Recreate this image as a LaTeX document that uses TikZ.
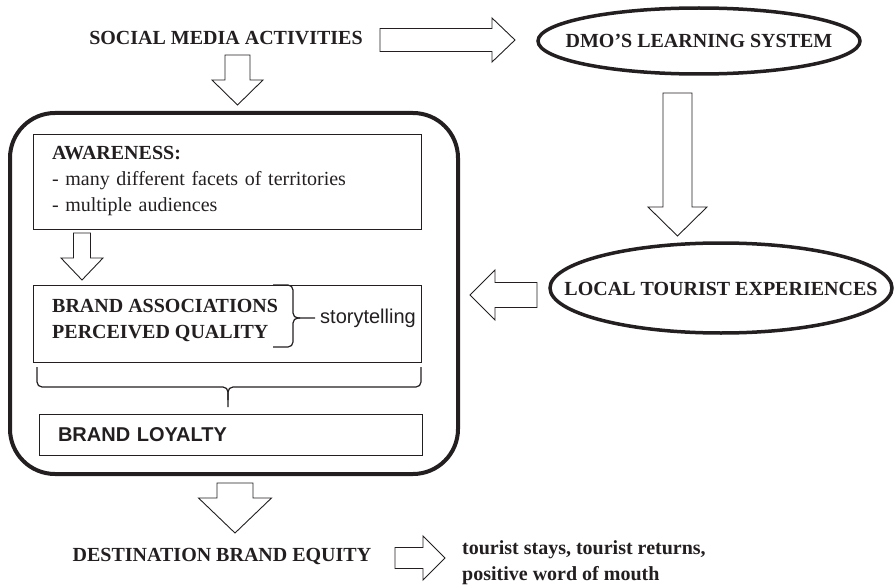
\documentclass[tikz,border=0pt]{standalone}
\usepackage{fontspec}
\setmainfont{Liberation Serif}
\setsansfont{Liberation Sans}
\usepackage{tikz}
\usetikzlibrary{calc,shapes.geometric,positioning}
\definecolor{ink}{HTML}{231F20}
\tikzset{every node/.append style={text=ink, font=\fontsize{20}{26}\selectfont}}
\tikzset{
  thinbox/.style={draw=ink, line width=1pt, inner sep=0pt},
  oval/.style={draw=ink, line width=3.5pt},
  hollow/.style={draw=ink, line width=0.9pt, line join=miter, fill=white},
  brace/.style={draw=ink, line width=1.2pt, rounded corners=5pt}
}
% hollow block arrow: start, tip, half shaft, half head, head length
\newcommand{\fatarrow}[5]{%
  \coordinate (fah) at ($(#2)!#5!(#1)$);
  \draw[hollow] ($(#1)!#3!90:(#2)$) -- ($(fah)!#3!90:(#2)$) -- ($(fah)!#4!90:(#2)$)
    -- (#2) -- ($(fah)!#4!-90:(#2)$) -- ($(fah)!#3!-90:(#2)$) -- ($(#1)!#3!-90:(#2)$) -- cycle;
}

\begin{document}
\begin{tikzpicture}[x=1pt, y=-1pt]
  \useasboundingbox (0,0) rectangle (895,586);

  \node at (226,38) (sma) {\bfseries SOCIAL MEDIA ACTIVITIES};
  \node at (699,41) (dmo) {\bfseries DMO'S LEARNING SYSTEM};
  \draw[oval] (dmo.center) ellipse [x radius=161, y radius=33];
  \node at (721,289) (lte) {\bfseries LOCAL TOURIST EXPERIENCES};
  \draw[oval] (721,288) ellipse [x radius=171, y radius=45];

  \node[draw=ink, line width=4pt, rounded corners=45pt, minimum width=448pt, minimum height=361pt] at (234,293.5) (frame) {};
  \node[thinbox, minimum width=388pt, minimum height=95pt, text width=350pt, align=left] at (227,181.5) (aware)
    {\textbf{AWARENESS:}\\- many different facets of territories\\- multiple audiences};
  \node[thinbox, minimum width=388pt, minimum height=77pt] at (227,323.5) (assocbox) {};
  \node[anchor=west, align=left, inner sep=0pt] at (52,320) (assoc) {\textbf{BRAND ASSOCIATIONS}\\\textbf{PERCEIVED QUALITY}};
  \node[anchor=west, inner sep=0pt, font=\sffamily\fontsize{20}{26}\selectfont] at (320,318) (story) {storytelling};
  \node[thinbox, minimum width=383pt, minimum height=41pt, text width=345pt, align=left,
    font=\sffamily\bfseries\fontsize{20}{26}\selectfont] at (230.5,434.5) (loyal) {BRAND LOYALTY};

  \node at (222,556) (dbe) {\bfseries DESTINATION BRAND EQUITY};
  \node[anchor=west, align=left, inner sep=0pt] at (462,563) (outcome) {\textbf{tourist stays, tourist returns,}\\\textbf{positive word of mouth}};

  % braces
  \draw[brace] (273,285) -| (293,318) -- (315,318);
  \draw[brace] (273,347) -| (293,318) -- (300,318);
  \draw[brace] (37,367) |- (228,387) -- (228,407);
  \draw[brace] (421,367) |- (228,387) -- (228,400);

  % block arrows
  \coordinate (smaR) at (380,40);   \coordinate (dmoL) at (515,40);
  \coordinate (smaD) at (237.5,55); \coordinate (frameT) at (237.5,105);
  \coordinate (dmoD) at (677.5,93); \coordinate (lteT) at (677.5,236);
  \coordinate (lteL) at (537,295);  \coordinate (frameR) at (470,295);
  \coordinate (awareD) at (82,233); \coordinate (assocT) at (82,280);
  \coordinate (frameB) at (235,483); \coordinate (dbeT) at (235,533);
  \coordinate (dbeR) at (395,558);  \coordinate (outL) at (445,558);

  \fatarrow{smaR}{dmoL}{11.5pt}{22pt}{23pt}
  \fatarrow{smaD}{frameT}{12.5pt}{25.5pt}{25pt}
  \fatarrow{dmoD}{lteT}{14.5pt}{29.5pt}{29pt}
  \fatarrow{lteL}{frameR}{12.5pt}{25pt}{25pt}
  \fatarrow{awareD}{assocT}{8.5pt}{21pt}{22pt}
  \fatarrow{frameB}{dbeT}{18pt}{36.5pt}{35pt}
  \fatarrow{dbeR}{outL}{10.5pt}{22pt}{22pt}
\end{tikzpicture}
\end{document}
